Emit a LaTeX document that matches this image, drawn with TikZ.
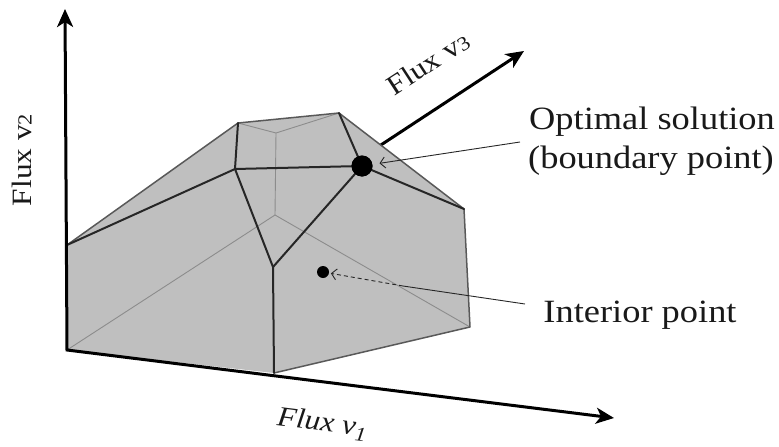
\documentclass[tikz,border=0pt]{standalone}
\usepackage{fontspec}
\setmainfont{Liberation Serif}[FakeStretch=1.12]
\usetikzlibrary{arrows.meta}
\begin{document}
\begin{tikzpicture}[x=1pt,y=-1pt,
  axis/.style={line width=3pt, black, line join=miter},
  axtip/.style={Stealth[length=18pt,width=16pt,inset=5pt]},
  polyfill/.style={fill=black!25},
  hidden/.style={draw=black!45, line width=0.9pt},
  outline/.style={draw=black!65, line width=1.5pt, line join=round},
  inner/.style={draw=black!85, line width=2pt, line cap=round, line join=round},
  leader/.style={line width=0.9pt, black!85},
  bigdot/.style={circle, fill=black, minimum size=21pt, inner sep=0pt},
  smalldot/.style={circle, fill=black, minimum size=12pt, inner sep=0pt},
  biglabel/.style={font=\fontsize{32.5}{39}\selectfont, text=black!90, inner sep=0pt},
  axlabel/.style={font=\fontsize{28}{32}\selectfont, text=black!90, inner sep=0pt}
]
\useasboundingbox (0,0) rectangle (779,447);
% vertices
\coordinate (O) at (67,350);
\coordinate (Ytip) at (65,9);
\coordinate (Xtip) at (614,418);
\coordinate (L) at (67,245);
\coordinate (TL) at (238,123);
\coordinate (TR) at (339,113);
\coordinate (ML) at (235,169);
\coordinate (R) at (464,209);
\coordinate (BR) at (470,327);
\coordinate (B) at (274,373);
\coordinate (C) at (273,267);
\coordinate (H1) at (276,133);
\coordinate (H2) at (275,215);
\coordinate (V3s) at (355,162);
\coordinate (V3t) at (524,51);
% v3 axis (behind)
\draw[axis,-{Stealth[length=18pt,width=16pt,inset=5pt]}] (V3s) -- (V3t);
% polytope
\fill[polyfill] (O) -- (L) -- (TL) -- (TR) -- (R) -- (BR) -- (B) -- cycle;
\draw[hidden] (TL) -- (H1) -- (TR);
\draw[hidden] (H1) -- (H2);
\draw[hidden] (O) -- (H2) -- (BR);
\node[bigdot] (D) at (362,166) {};
\draw[outline] (L) -- (TL) -- (TR) -- (R) -- (BR) -- (B);
\draw[inner] (L) -- (ML) -- (D.center) -- (R);
\draw[inner] (TL) -- (ML) -- (C) -- (B);
\draw[inner] (TR) -- (D.center) -- (C);
\node[bigdot] at (D) {};
% axes
\draw[axis,{Stealth[length=18pt,width=16pt,inset=5pt]}-{Stealth[length=18pt,width=16pt,inset=5pt]}] (Ytip) -- (O) -- (Xtip);
% interior point
\node[smalldot] (P) at (323,272) {};
% labels
\node[biglabel, anchor=base] (opt1) at (652,129) {Optimal solution};
\node[biglabel, anchor=base] (opt2) at (651,168) {(boundary point)};
\node[biglabel, anchor=base] (int) at (640,322) {Interior point};
\node[axlabel, rotate=90] (lv2) at (22,160) {Flux v{\fontsize{20}{20}\selectfont 2}};
\node[axlabel, rotate=33] (lv3) at (428,63) {Flux v{\fontsize{20}{20}\selectfont 3}};
\node[axlabel, rotate=-7, font=\fontsize{28}{32}\selectfont\itshape] (lv1) at (322,424) {Flux v\raisebox{-6pt}{\fontsize{20}{20}\selectfont 1}};
% leaders
\coordinate (optL) at (520,142);
\coordinate (intL) at (525,304);
\coordinate (intM) at (403,286);
\draw[leader,-{Straight Barb[length=5pt,width=11pt]}] (optL) -- (D) [shorten >=7pt];
\draw[leader] (intL) -- (intM);
\draw[leader, dash pattern=on 4pt off 3pt,-{Straight Barb[length=5pt,width=11pt]}, shorten >=8pt] (intM) -- (P.center);
\end{tikzpicture}
\end{document}
